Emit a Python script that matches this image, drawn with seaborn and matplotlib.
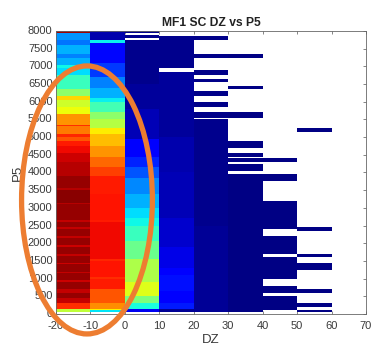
import numpy as np
import pandas as pd
import matplotlib
matplotlib.use("Agg")
import matplotlib.pyplot as plt
from matplotlib.patches import Ellipse
import seaborn as sns

# ---- data -----------------------------------------------------------------
# DZ bins (left edges, width 10) and P5 bins (width 50, 0..8000)
dz_bins = [-20, -10, 0, 10, 20, 30, 40, 50]
p5_step = 50
p5_max = 8000
x_ticks = [-20, -10, 0, 10, 20, 30, 40, 50, 60, 70]
y_ticks = list(range(0, 8001, 500))

# colour level (0..1 on the jet scale) held over P5 ranges: (from, to, level)
dz_m20 = [(50, 150, 0.58), (150, 300, 0.86), (300, 450, 0.94), (450, 600, 0.98),
          (600, 700, 0.94), (700, 900, 0.98), (900, 950, 0.93), (950, 1150, 0.98),
          (1150, 1200, 0.94), (1200, 1400, 0.98), (1400, 1450, 0.93), (1450, 1650, 0.98),
          (1650, 1700, 0.94), (1700, 1900, 0.98), (1900, 1950, 0.93), (1950, 2150, 0.98),
          (2150, 2200, 0.94), (2200, 2400, 0.98), (2400, 2450, 0.94), (2450, 2600, 0.98),
          (2600, 2650, 0.94), (2650, 3100, 0.98), (3100, 3150, 0.95), (3150, 3500, 0.99),
          (3500, 3550, 0.95), (3550, 3900, 0.98), (3900, 4300, 0.95), (4300, 4550, 0.93),
          (4550, 4750, 0.90), (4750, 4900, 0.88), (4900, 5000, 0.82), (5000, 5100, 0.87),
          (5100, 5300, 0.78), (5300, 5350, 0.86), (5350, 5650, 0.75), (5650, 5850, 0.64),
          (5850, 6050, 0.60), (6050, 6150, 0.68), (6150, 6350, 0.52), (6350, 6750, 0.42),
          (6750, 6950, 0.34), (6950, 7050, 0.37), (7050, 7250, 0.30), (7250, 7350, 0.25),
          (7350, 7600, 0.30), (7600, 7750, 0.24), (7750, 7950, 0.27), (7950, 8000, 0.97)]

dz_m10 = [(50, 100, 0.35), (100, 150, 0.65), (150, 300, 0.76), (300, 700, 0.82),
          (700, 1000, 0.88), (1000, 1050, 0.86), (1050, 1500, 0.89), (1500, 1550, 0.87),
          (1550, 2600, 0.90), (2600, 2650, 0.88), (2650, 3400, 0.89), (3400, 3900, 0.88),
          (3900, 4150, 0.84), (4150, 4450, 0.80), (4450, 4750, 0.75), (4750, 5100, 0.71),
          (5100, 5250, 0.66), (5250, 5500, 0.57), (5500, 5700, 0.52), (5700, 6000, 0.43),
          (6000, 6100, 0.36), (6100, 6400, 0.30), (6400, 6700, 0.25), (6700, 7100, 0.18),
          (7100, 7650, 0.13), (7650, 7750, 0.36), (7750, 8000, 0.04)]

dz_0 = [(50, 150, 0.10), (150, 300, 0.38), (300, 500, 0.50), (500, 900, 0.62),
        (900, 1550, 0.56), (1550, 2050, 0.48), (2050, 2500, 0.42), (2500, 2700, 0.37),
        (2700, 3000, 0.34), (3000, 3400, 0.30), (3400, 3850, 0.26), (3850, 4150, 0.21),
        (4150, 4450, 0.16), (4450, 4950, 0.11), (4950, 5800, 0.05), (5800, 6500, 0.025),
        (6500, 7750, 0.012), (7800, 7900, 0.012), (7950, 8000, 0.012)]

dz_10 = [(50, 150, 0.02), (150, 300, 0.15), (300, 650, 0.12), (650, 1100, 0.14),
         (1100, 1300, 0.11), (1300, 1900, 0.09), (1900, 2700, 0.07), (2700, 4000, 0.05),
         (4000, 5000, 0.04), (5000, 6850, 0.025), (6950, 7850, 0.015)]

dz_20 = [(50, 2500, 0.02), (2500, 5500, 0.012), (5550, 5700, 0.008), (5850, 6000, 0.008),
         (6150, 6300, 0.008), (6550, 6650, 0.008), (6750, 6900, 0.008), (7250, 7350, 0.008),
         (7750, 7850, 0.008)]

dz_30 = [(50, 3950, 0.006), (4050, 4250, 0.005), (4300, 4400, 0.005), (4450, 4550, 0.005),
         (4700, 4900, 0.005), (5550, 5700, 0.005), (6350, 6450, 0.005), (7250, 7350, 0.005)]

dz_40 = [(100, 500, 0.004), (600, 800, 0.004), (1000, 1600, 0.004), (1700, 2200, 0.004),
         (2400, 3200, 0.004), (3750, 3950, 0.004), (4300, 4400, 0.004)]

dz_50 = [(50, 100, 0.004), (200, 300, 0.004), (600, 700, 0.004), (1250, 1450, 0.004),
         (1600, 1700, 0.004), (2350, 2450, 0.004), (5150, 5250, 0.004)]

columns = [dz_m20, dz_m10, dz_0, dz_10, dz_20, dz_30, dz_40, dz_50]

# ---- grid -----------------------------------------------------------------
n_rows = p5_max // p5_step
row_lo = np.arange(n_rows) * p5_step
grid = np.full((n_rows, len(dz_bins)), np.nan)
for j, segs in enumerate(columns):
    for lo, hi, val in segs:
        sel = (row_lo >= lo) & (row_lo + p5_step <= hi)
        grid[sel, j] = val
df = pd.DataFrame(grid, index=row_lo, columns=dz_bins)

# ---- figure ---------------------------------------------------------------
sns.set_theme(style="white")
plt.rcParams["font.family"] = ["Liberation Sans", "DejaVu Sans"]

fig = plt.figure(figsize=(3.72, 3.5), dpi=100)
fig.patch.set_facecolor("white")
ax = fig.add_axes([0.1505, 0.1029, 0.8333, 0.8086])

sns.heatmap(df, cmap="jet", vmin=0, vmax=1, cbar=False, ax=ax)

ax.set_xlim(0, len(x_ticks) - 1)
ax.set_ylim(0, n_rows)
ax.set_xticks(np.arange(len(x_ticks)))
ax.set_xticklabels([str(v) for v in x_ticks], rotation=0)
ax.set_yticks([v / p5_step for v in y_ticks])
ax.set_yticklabels([str(v) for v in y_ticks], rotation=0)

for s in ax.spines.values():
    s.set_visible(True)
    s.set_color("#666666")
    s.set_linewidth(0.6)

ax.tick_params(direction="in", top=True, right=True, bottom=True, left=True,
               length=2.5, width=0.5, color="#555555", labelcolor="#3a3a3a",
               labelsize=8)
ax.tick_params(axis="x", pad=5)
ax.tick_params(axis="y", pad=2.5)

ax.set_title("MF1 SC DZ vs P5", fontsize=8.7, fontweight="bold", color="#222222", pad=3.5)
ax.set_xlabel("DZ", fontsize=9.5, color="#3a3a3a", labelpad=2)
ax.set_ylabel("P5", fontsize=9.5, color="#3a3a3a", labelpad=3)

# orange highlight ring around the two leftmost columns
ring = Ellipse((0.1, 0.403), 0.422, 0.947, transform=ax.transAxes, fill=False,
               edgecolor="#ED7D31", linewidth=3.8, clip_on=False, zorder=10)
ax.add_patch(ring)

fig.savefig("out.png", dpi=100, facecolor="white")
